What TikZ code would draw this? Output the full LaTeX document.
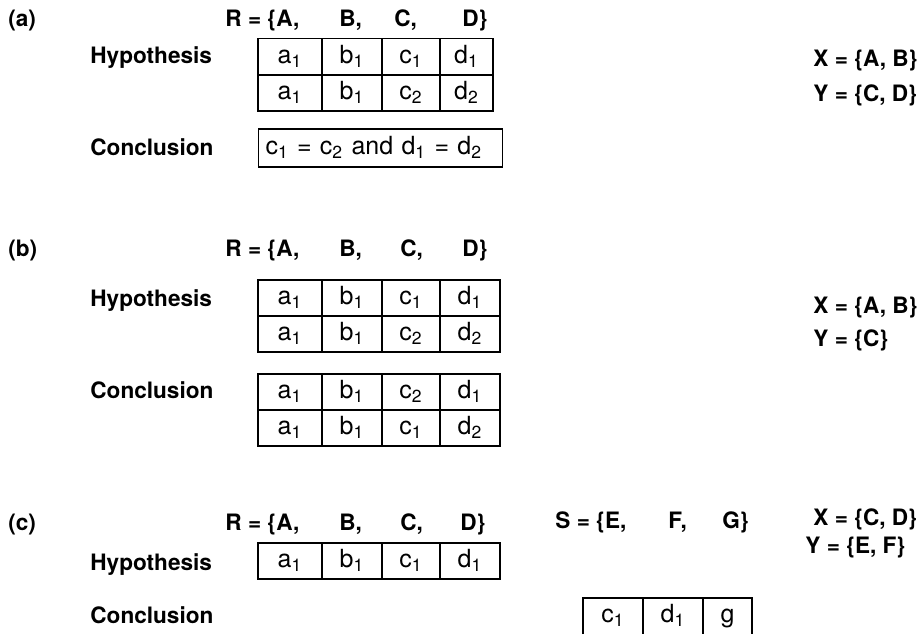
\documentclass[tikz,border=0pt]{standalone}
\usepackage{fontspec}
\setmainfont{TeX Gyre Heros}
\usetikzlibrary{positioning}
\tikzset{
  lbl/.style     ={font=\fontsize{11.3}{13}\selectfont\bfseries, anchor=base west, inner sep=0pt},
  cell/.style    ={draw, line width=0.8pt, inner sep=0pt, outer sep=0pt, minimum height=18pt,
                   text height=9pt, text depth=2.5pt, font=\fontsize{12.5}{14}\selectfont},
  cellA/.style   ={cell, minimum width=32pt},
  cellB/.style   ={cell, minimum width=30pt},
  cellC/.style   ={cell, minimum width=29pt},
  opencell/.style={cell, draw=none},
}
\newcommand{\low}[1]{\textsubscript{#1}}
% one tuple of R: [width of last cell], name, centre of first cell, four values
\newcommand{\tuplerow}[7][30pt]{%
  \node[cellA] (#2-1) at (#3) {#4};
  \node[cellB, right=0pt of #2-1] (#2-2) {#5};
  \node[cellC, right=0pt of #2-2] (#2-3) {#6};
  \node[cell, minimum width=#1, right=0pt of #2-3] (#2-4) {#7};
}

\begin{document}
\begin{tikzpicture}[x=0.5pt, y=-0.5pt]
  \useasboundingbox (0,0) rectangle (920,634);

  % (a) functional dependency
  \node[lbl] (la)  at (8,26)   {(a)};
  \node[lbl] (ra1) at (225,26) {R = \{A,};
  \node[lbl] (ra2) at (339,26) {B,};
  \node[lbl] (ra3) at (394,26) {C,};
  \node[lbl] (ra4) at (462,26) {D\}};
  \node[lbl] (hypa) at (90,63)  {Hypothesis};
  \node[lbl] (cona) at (90,155) {Conclusion};
  \tuplerow[26.5pt]{aha}{290,56.5}{a\low1}{b\low1}{c\low1}{d\low1}
  \tuplerow[26.5pt]{ahb}{290,93}{a\low1}{b\low1}{c\low2}{d\low2}
  \node[cell, text width=115pt, inner xsep=3.5pt, align=left, minimum height=19pt]
        (aeq) at (380.5,148) {c\low1 = c\low2 and d\low1 = d\low2};
  \node[lbl] (xa) at (813,66)  {X = \{A, B\}};
  \node[lbl] (ya) at (813,101) {Y = \{C, D\}};

  % (b) multivalued dependency
  \node[lbl] (lb)  at (8,256)   {(b)};
  \node[lbl] (rb1) at (225,256) {R = \{A,};
  \node[lbl] (rb2) at (339,256) {B,};
  \node[lbl] (rb3) at (400,256) {C,};
  \node[lbl] (rb4) at (462,256) {D\}};
  \node[lbl] (hypb) at (90,306) {Hypothesis};
  \node[lbl] (conb) at (90,398) {Conclusion};
  \tuplerow{bha}{290,298}{a\low1}{b\low1}{c\low1}{d\low1}
  \tuplerow{bhb}{290,334}{a\low1}{b\low1}{c\low2}{d\low2}
  \tuplerow{bca}{290,392}{a\low1}{b\low1}{c\low2}{d\low1}
  \tuplerow{bcb}{290,428}{a\low1}{b\low1}{c\low1}{d\low2}
  \node[lbl] (xb) at (813,313) {X = \{A, B\}};
  \node[lbl] (yb) at (813,346) {Y = \{C\}};

  % (c) inclusion dependency
  \node[lbl] (lc)  at (8,530)   {(c)};
  \node[lbl] (rc1) at (225,530) {R = \{A,};
  \node[lbl] (rc2) at (339,530) {B,};
  \node[lbl] (rc3) at (400,530) {C,};
  \node[lbl] (rc4) at (460,530) {D\}};
  \node[lbl] (sc1) at (555,528) {S = \{E,};
  \node[lbl] (sc2) at (668,528) {F,};
  \node[lbl] (sc3) at (722,528) {G\}};
  \node[lbl] (hypc) at (90,570) {Hypothesis};
  \node[lbl] (conc) at (90,623) {Conclusion};
  \tuplerow{cha}{290,561}{a\low1}{b\low1}{c\low1}{d\low1}
  \node[opencell, minimum width=30pt] (cc1) at (613,616) {c\low1};
  \node[opencell, minimum width=30pt, right=0pt of cc1] (cc2) {d\low1};
  \node[opencell, minimum width=24.5pt, right=0pt of cc2] (cc3) {g};
  \draw[line width=0.8pt] (cc1.south west) -- (cc1.north west) -- (cc3.north east) -- (cc3.south east);
  \draw[line width=0.8pt] (cc2.north west) -- (cc2.south west) (cc2.north east) -- (cc2.south east);
  \node[lbl] (xc) at (813,525) {X = \{C, D\}};
  \node[lbl] (yc) at (805,553) {Y = \{E, F\}};
\end{tikzpicture}
\end{document}
